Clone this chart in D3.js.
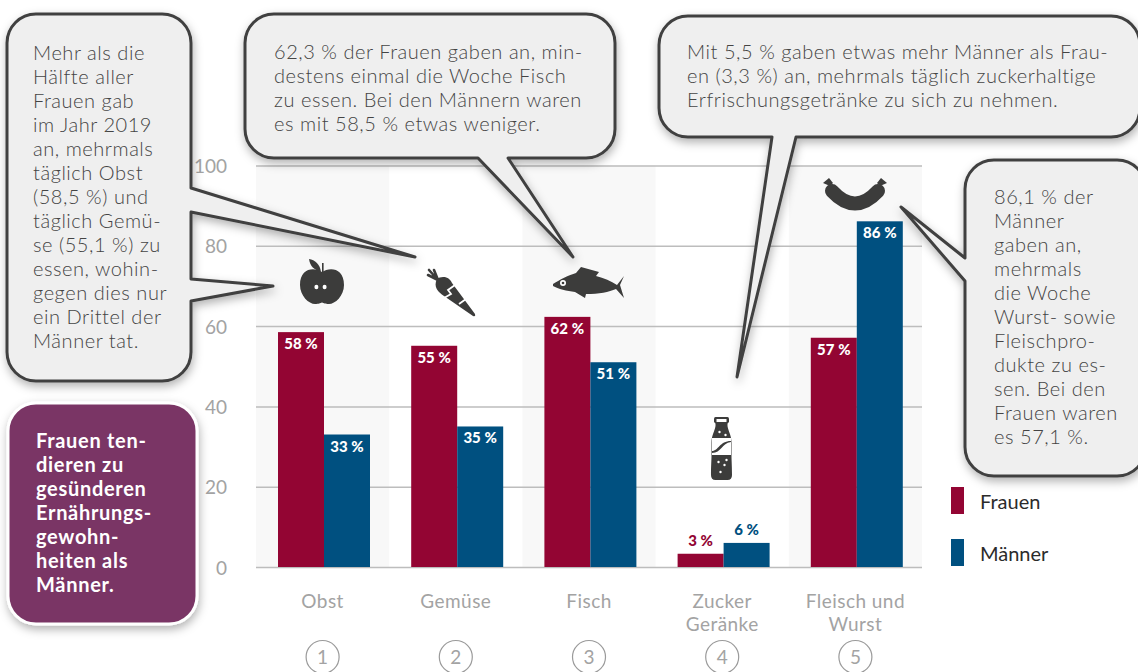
<!DOCTYPE html>
<html><head><meta charset="utf-8">
<script src="https://cdn.jsdelivr.net/npm/d3@7"></script>
<style>
html,body{margin:0;padding:0;background:#fff;overflow:hidden}
svg{display:block}
text{font-family:Lato,sans-serif}
</style></head><body>
<svg id="c" width="1138" height="672"></svg>
<script>
const categories=["Obst","Gemüse","Fisch","Zucker\nGeränke","Fleisch und\nWurst"];
const frauen=[58.5,55.1,62.3,3.3,57.1];
const maenner=[33,35,51,6,86.1];
const frauenLabels=["58\u202f%","55\u202f%","62\u202f%","3\u202f%","57\u202f%"];
const maennerLabels=["33\u202f%","35\u202f%","51\u202f%","6\u202f%","86\u202f%"];
const seriesNames=["Frauen","Männer"];
const yTicks=[0,20,40,60,80,100];
const colors=["#930533","#005080"];
const note1=["Mehr als die","Hälfte aller","Frauen gab","im Jahr 2019","an, mehrmals","täglich Obst","(58,5 %) und","täglich Gemü-","se (55,1 %) zu","essen, wohin-","gegen dies nur","ein Drittel der","Männer tat."];
const note2=["62,3 % der Frauen gaben an, min-","destens einmal die Woche Fisch","zu essen. Bei den Männern waren","es mit 58,5 % etwas weniger."];
const note3=["Mit 5,5 % gaben etwas mehr Männer als Frau-","en (3,3 %) an, mehrmals täglich zuckerhaltige","Erfrischungsgetränke zu sich zu nehmen."];
const note4=["86,1 % der","Männer","gaben an,","mehrmals","die Woche","Wurst- sowie","Fleischpro-","dukte zu es-","sen. Bei den","Frauen waren","es 57,1 %."];
const note5=["Frauen ten-","dieren zu","gesünderen","Ernährungs-","gewohn-","heiten als","Männer."];

const svg=d3.select("#c");
const defs=svg.append("defs");
const f=defs.append("filter").attr("id","sh").attr("x","-20%").attr("y","-20%").attr("width","140%").attr("height","140%");
f.append("feDropShadow").attr("dx",1).attr("dy",4).attr("stdDeviation",5).attr("flood-color","#000").attr("flood-opacity",.3);

const x=d3.scaleBand().domain(categories).range([256,922]);
const y=d3.scaleLinear().domain([0,100]).range([567,165.5]);
const inner=d3.scaleBand().domain([0,1]).range([22,114]);

svg.append("g").selectAll("rect").data(categories.filter((d,i)=>i%2==0)).join("rect")
 .attr("x",d=>x(d)).attr("width",x.bandwidth()).attr("y",y(100)).attr("height",y(0)-y(100)).attr("fill","#f8f8f8");

const yAxis=svg.append("g").attr("transform","translate(256,0)")
 .call(d3.axisLeft(y).tickValues(yTicks).tickSize(-666).tickPadding(29));
yAxis.select(".domain").remove();
yAxis.selectAll("line").attr("stroke","#bdbdbd").attr("stroke-width",1.5);
yAxis.selectAll("text").attr("fill","#a3a3a3").attr("y",1).style("font-size","19px").style("font-family","Lato,sans-serif");

const xAxis=svg.append("g").attr("transform","translate(0,567)").call(d3.axisBottom(x).tickSize(0));
xAxis.select(".domain").remove();
xAxis.selectAll("text").each(function(d){
  const t=d3.select(this).text(null).attr("y",null).attr("dy",null).attr("fill","#a3a3a3").style("font-size","19px").style("letter-spacing","0.45px").style("font-family","Lato,sans-serif");
  d.split("\n").forEach((s,i)=>t.append("tspan").attr("x",0).attr("y",41+i*23).text(s));
});

[frauen,maenner].forEach((vals,s)=>{
  svg.append("g").selectAll("rect").data(vals).join("rect")
   .attr("x",(d,i)=>x(categories[i])+inner(s)).attr("width",inner.bandwidth())
   .attr("y",d=>y(d)).attr("height",d=>y(0)-y(d)).attr("fill",colors[s]);
  const labs=s?maennerLabels:frauenLabels;
  svg.append("g").selectAll("text").data(vals).join("text")
   .attr("x",(d,i)=>x(categories[i])+inner(s)+inner.bandwidth()/2)
   .attr("y",d=>d<10?y(d)-8:y(d)+17)
   .attr("text-anchor","middle").attr("font-weight",900).attr("font-size",15)
   .attr("fill",d=>d<10?colors[s]:"#fff").text((d,i)=>labs[i]);
});

// numbered circles
const nums=svg.append("g").selectAll("g").data(categories).join("g")
 .attr("transform",d=>`translate(${x(d)+x.bandwidth()/2},657)`);
nums.append("circle").attr("r",16.5).attr("fill","#fff").attr("stroke","#9a9a9a").attr("stroke-width",1.2);
nums.append("text").attr("text-anchor","middle").attr("y",7).attr("font-size",19).attr("fill","#a3a3a3").text((d,i)=>i+1);

// icons
const ink="#3c3c3b";
function icon(i,dx,dy){return svg.append("g").attr("transform",`translate(${x(categories[i])+x.bandwidth()/2+dx},${dy})`);}
const apple=icon(0,-0.6,284);
apple.append("path").attr("fill",ink).attr("d","M0,-12C-7,-17 -22,-17 -22,1C-22,12 -13,20 -7,20C-3,20 -2,19 0,18.5C2,19 3,20 7,20C13,20 22,12 22,1C22,-17 7,-17 0,-12Z");
apple.append("path").attr("fill",ink).attr("d","M-1,-12C-8,-14 -12,-18 -13,-25C-7,-24 -2,-20 -1,-12Z");
apple.append("rect").attr("x",0).attr("y",-21).attr("width",1.6).attr("height",9).attr("fill",ink);
apple.selectAll("ellipse").data([-5.6,2.6]).join("ellipse").attr("cx",d=>d).attr("cy",3).attr("rx",2).attr("ry",2.2).attr("fill","#fff");

const carrot=icon(1,-5.8,294);
carrot.append("path").attr("fill",ink).attr("d","M-13,-15C-9,-18 -1,-18 2,-11L25,20Q26,23 23,22L-6,2C-12,-2 -17,-7 -13,-15Z");
carrot.append("path").attr("fill","none").attr("stroke",ink).attr("stroke-width",2.6).attr("stroke-linecap","round").attr("d","M-12,-14L-22,-19M-12,-14L-21,-24M-12,-14L-16,-24");
carrot.append("path").attr("fill","none").attr("stroke","#fff").attr("stroke-width",1.8).attr("d","M5,-9L-2,-4L1,0L-6,4M16,5L9,10");

const fish=icon(2,0,283);
fish.append("path").attr("fill",ink).attr("d","M-36,1C-30,-3 -20,-8 -13,-10L-8,-16L10,-11L7,-7C15,-5 22,-2 28,2L35,-7L31,2L35,15L27,6C20,9 10,11 -3,11L-4,15L-14,9C-22,8 -31,6 -36,3Z");
fish.append("circle").attr("cx",-26).attr("cy",0).attr("r",3).attr("fill","#fff");
fish.append("circle").attr("cx",-26).attr("cy",0).attr("r",1.3).attr("fill",ink);

const bottle=icon(3,-0.7,449);
bottle.append("path").attr("fill",ink).attr("d","M-6,-32H6Q7.5,-32 7.5,-30V-27L6,-25.5V-23C7,-17 10,-14 10,-6V6C10,12 10.5,16 10.5,26Q10.5,31 6,31H-6Q-10.5,31 -10.5,26C-10.5,16 -10,12 -10,6V-6C-10,-14 -7,-17 -6,-23V-25.5L-7.5,-27V-30Q-7.5,-32 -6,-32Z");
bottle.append("path").attr("fill","#fff").attr("d","M-5,-30H5V-27H-5Z");
bottle.append("rect").attr("x",-9.5).attr("y",-11).attr("width",19).attr("height",17).attr("fill","#fff");
bottle.append("path").attr("fill",ink).attr("d","M-9.5,4V2C-3,2 -2,-8 9.5,-8V-7C0,-6 0,4 -9.5,4Z");
bottle.selectAll("circle").data([[-2,-17],[4,-14],[-3,13],[3,16],[-1,23],[5,11]]).join("circle")
 .attr("cx",d=>d[0]).attr("cy",d=>d[1]).attr("r",1.2).attr("fill","#fff");

const sausage=icon(4,-0.4,194);
sausage.append("path").attr("fill","none").attr("stroke",ink).attr("stroke-width",14).attr("stroke-linecap","round").attr("d","M-23,-3Q0,22 23,-3");
sausage.append("path").attr("fill",ink).attr("d","M-32,-11L-26,-16L-22,-11L-25,-8Z");
sausage.append("path").attr("fill",ink).attr("d","M32,-11L26,-16L22,-11L25,-8Z");

// speech bubbles
function bubble(o){
  const {x0,y0,x1,y1,r,right=[],bottom=[],left=[]}=o;
  const pts=a=>a.map(p=>"L"+p[0]+","+p[1]).join("");
  const arc=(ex,ey)=>`A${r},${r} 0 0 1 ${ex},${ey}`;
  return `M${x0+r},${y0}H${x1-r}${arc(x1,y0+r)}${pts(right)}V${y1-r}${arc(x1-r,y1)}${pts(bottom)}H${x0+r}${arc(x0,y1-r)}${pts(left)}V${y0+r}${arc(x0+r,y0)}Z`;
}
const bubbles=[
 {x0:7,y0:14,x1:191,y1:381,r:29,right:[[191,188],[415,257],[191,212],[191,279],[273,286],[191,301]],tx:33,ty:60,lines:note1},
 {x0:245,y0:14,x1:615,y1:158,r:29,bottom:[[508,158],[573,257],[478,158]],tx:274,ty:59,lines:note2},
 {x0:659,y0:16,x1:1140,y1:137,r:29,bottom:[[796,137],[737,377],[772,137]],tx:687,ty:59,lines:note3},
 {x0:965,y0:160,x1:1146,y1:476,r:29,left:[[965,281],[901,207],[965,258]],tx:994,ty:204,lines:note4}
];
bubbles.forEach(b=>{
  svg.append("path").attr("d",bubble(b)).attr("fill","#efefef").attr("stroke","#404040").attr("stroke-width",3).attr("stroke-linejoin","round").attr("filter","url(#sh)");
  svg.append("g").selectAll("text").data(b.lines).join("text").attr("x",b.tx).attr("y",(d,i)=>b.ty+i*24)
   .attr("font-size",20).attr("font-weight",300).attr("letter-spacing",0.55).attr("fill","#444").text(d=>d);
});

svg.append("rect").attr("x",8).attr("y",403).attr("width",189).attr("height",221).attr("rx",28)
 .attr("fill","#7a3665").attr("stroke","#fff").attr("stroke-width",3).attr("filter","url(#sh)");
svg.append("g").selectAll("text").data(note5).join("text").attr("x",36).attr("y",(d,i)=>448+i*24)
 .attr("font-size",20).attr("letter-spacing",0.7).attr("font-weight",700).attr("fill","#fff").text(d=>d);

// legend
const leg=svg.append("g").selectAll("g").data(seriesNames).join("g").attr("transform",(d,i)=>`translate(951,${487+i*52})`);
leg.append("rect").attr("width",13).attr("height",27).attr("fill",(d,i)=>colors[i]);
leg.append("text").attr("x",29).attr("y",22).attr("font-size",20).attr("fill","#2b2b2b").text(d=>d);
</script>
</body></html>
